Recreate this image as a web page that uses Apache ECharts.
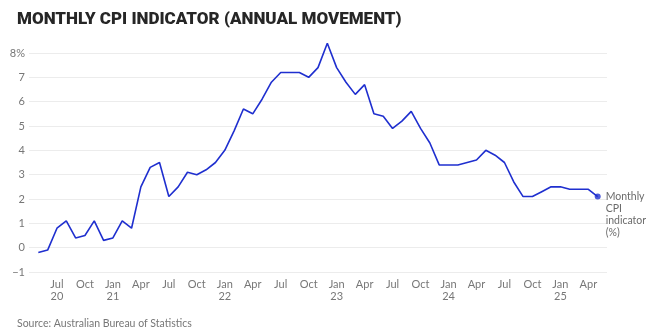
<!DOCTYPE html>
<html><head><meta charset="utf-8">
<script src="https://cdn.jsdelivr.net/npm/echarts@6/dist/echarts.min.js"></script>
<style>html,body{margin:0;padding:0;background:#fff}#c{width:650px;height:335px}</style>
</head><body><div id="c"></div>
<script>
// Months from May 2020 to May 2025 (index 0 = May 2020)
const monthNames = ['Jan','Feb','Mar','Apr','May','Jun','Jul','Aug','Sep','Oct','Nov','Dec'];
const startYear = 2020, startMonth = 4; // May
const cpi = [
  -0.2, -0.1, 0.8, 1.1, 0.4, 0.5, 1.1, 0.3,            // May-Dec 2020
  0.4, 1.1, 0.8, 2.5, 3.3, 3.5, 2.1, 2.5, 3.1, 3.0, 3.2, 3.5, // 2021
  4.0, 4.8, 5.7, 5.5, 6.1, 6.8, 7.2, 7.2, 7.2, 7.0, 7.4, 8.4, // 2022
  7.4, 6.8, 6.3, 6.7, 5.5, 5.4, 4.9, 5.2, 5.6, 4.9, 4.3, 3.4, // 2023
  3.4, 3.4, 3.5, 3.6, 4.0, 3.8, 3.5, 2.7, 2.1, 2.1, 2.3, 2.5, // 2024
  2.5, 2.4, 2.4, 2.4, 2.1                                // Jan-May 2025
];
const yTicks = [-1,0,1,2,3,4,5,6,7,8];
const titleText = 'MONTHLY CPI INDICATOR (ANNUAL MOVEMENT)';
const sourceText = 'Source: Australian Bureau of Statistics';
const seriesLabel = 'Monthly\nCPI\nindicator\n(%)';

const lineData = cpi.map((v,i)=>[i,v]);
const last = lineData[lineData.length-1];

function monthLabel(idx){
  if (idx < 0 || idx >= cpi.length) return '';
  const m = (startMonth + idx) % 12;
  const y = startYear + Math.floor((startMonth + idx)/12);
  if (m === 0 || idx === 2) return monthNames[m] + '\n' + String(y).slice(2);
  return monthNames[m];
}

const chart = echarts.init(document.getElementById('c'), null, {renderer:'canvas'});
chart.setOption({
  animation:false,
  backgroundColor:'#fff',
  title:[{
    text:titleText, left:12, top:6,
    textStyle:{fontFamily:'Roboto', fontWeight:900, fontSize:17, color:'#262626'}
  },{
    text:sourceText, left:12, top:313,
    textStyle:{fontFamily:'Lato', fontWeight:'normal', fontSize:10.5, color:'#777'}
  }],
  grid:{left:29, right:43, top:53, bottom:63},
  xAxis:{
    type:'value', min:-1, max:61, interval:3,
    axisLine:{show:false}, axisTick:{show:false}, splitLine:{show:false},
    axisLabel:{formatter:v=>monthLabel(v), color:'#777', fontSize:11, fontFamily:'Lato', lineHeight:12, margin:6, showMinLabel:false, showMaxLabel:false}
  },
  yAxis:{
    type:'value', min:-1, max:8, interval:1,
    axisLine:{show:false}, axisTick:{show:false},
    splitLine:{lineStyle:{color:'#ececec', width:1}},
    axisLabel:{formatter:v=> v===8 ? '8%' : (v<0 ? '\u2212'+Math.abs(v) : String(v)), color:'#777', fontSize:11, fontFamily:'Lato', margin:4}
  },
  series:[{
    type:'line', data:lineData, showSymbol:false, symbol:'none', clip:false,
    lineStyle:{color:'#1f2fcf', width:1.6}, itemStyle:{color:'#1f2fcf'},
    z:3
  },{
    type:'scatter', data:[last], symbol:'circle', symbolSize:6, clip:false,
    itemStyle:{color:'#1f2fcf'},
    label:{show:true, position:'right', formatter:seriesLabel, color:'#444', fontSize:10.5, fontFamily:'Lato', lineHeight:12, align:'left', verticalAlign:'top', offset:[0,-6], distance:5},
    z:4
  }]
});
</script></body></html>
